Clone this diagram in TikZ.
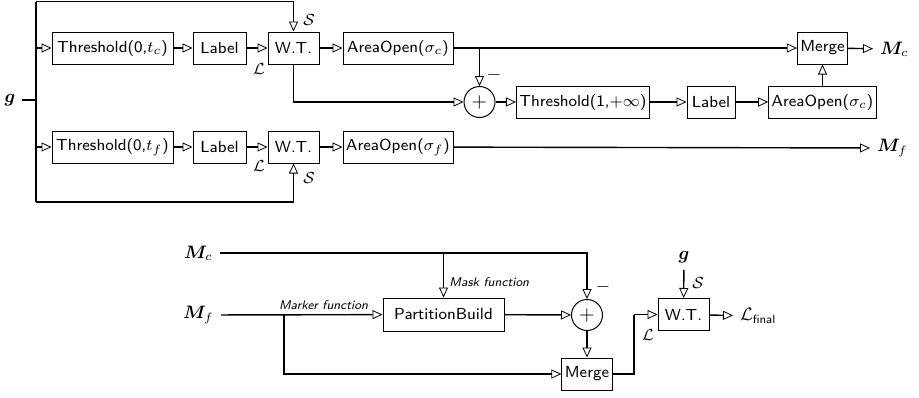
\documentclass[tikz,border=0pt]{standalone}
\usepackage{amsmath}
\usepackage{amssymb}
\usepackage{bm}
\usetikzlibrary{arrows.meta}
\def\g{\bm g}
\def\M{\bm M}
\def\Lc{\mathcal L}
\def\Sc{\mathcal S}

\begin{document}
\begin{tikzpicture}[x=5pt,y=-5pt,
    blk/.style={draw,line width=0.5pt,minimum height=16pt,inner xsep=1.5pt,font=\fontsize{8}{10}\selectfont\sffamily},
    sumnode/.style={draw,circle,line width=0.5pt,minimum size=15.5pt,inner sep=0pt,font=\fontsize{10}{10}\selectfont},
    wire/.style={line width=0.7pt,-{Triangle[open,length=5pt,width=4.5pt,line width=0.4pt]}},
    bus/.style={line width=0.7pt},
    lab/.style={inner sep=1pt,font=\fontsize{8}{9}\selectfont},
    note/.style={inner sep=1pt,font=\fontsize{6.3}{7}\selectfont\sffamily\itshape},
    io/.style={font=\fontsize{9}{10}\selectfont}]
          \useasboundingbox (0,0) rectangle (91.9,39.7);

          % first stage
          \node[io] (g) at (1.0,10.0) {$\g$};
          \coordinate (gin) at (3.6,10.0);
          \coordinate (ttop) at (3.6,0.15);
          \coordinate (tbot) at (3.6,20.2);

          \node[blk,minimum width=60.5pt] (thc) at (11.25,4.8) {Threshold(0,$t_c$)};
          \node[blk,minimum width=26.5pt] (lbc) at (21.95,4.8) {Label};
          \node[blk,minimum width=25.5pt] (wtc) at (29.35,4.8) {W.T.};
          \node[blk,minimum width=55pt] (aoc) at (39.8,4.8) {AreaOpen($\sigma_c$)};
          \node[blk,minimum width=60.5pt] (thf) at (11.25,14.7) {Threshold(0,$t_f$)};
          \node[blk,minimum width=26.5pt] (lbf) at (21.95,14.7) {Label};
          \node[blk,minimum width=25.5pt] (wtf) at (29.35,14.7) {W.T.};
          \node[blk,minimum width=55pt] (aof) at (39.8,14.7) {AreaOpen($\sigma_f$)};

          \node[sumnode] (sum) at (47.95,10.2) {$+$};
          \node[blk,minimum width=64pt] (th1) at (58.3,10.2) {Threshold(1,$+\infty$)};
          \node[blk,minimum width=24pt] (lb1) at (71.1,10.2) {Label};
          \node[blk,minimum width=50.5pt] (ao1) at (82.25,10.2) {AreaOpen($\sigma_c$)};
          \node[blk,minimum width=24.5pt] (mrg) at (82.25,4.8) {Merge};
          \node[io,anchor=west] (mc) at (87.3,4.9) {$\M_c$};
          \node[io,anchor=west] (mf) at (87.0,14.8) {$\M_f$};

          \node[lab] (sc) at (30.9,2.0) {$\Sc$};
          \node[lab] (lc) at (25.9,6.9) {$\Lc$};
          \node[lab] (sf) at (30.9,17.8) {$\Sc$};
          \node[lab] (lf) at (25.9,16.6) {$\Lc$};
          \node[io] (neg) at (49.4,7.5) {$-$};

          \draw [bus,line width=1pt] (g) -- (gin);
          \draw [bus] (ttop) -- (tbot);
          \draw [wire] (ttop) -| (wtc.north);
          \draw [wire] (tbot) -| (wtf.south);
          \draw [wire] (ttop |- thc) -- (thc);
          \draw [wire] (tbot |- thf) -- (thf);
          \draw [wire] (thc) -- (lbc);
          \draw [wire] (lbc) -- (wtc);
          \draw [wire] (wtc) -- (aoc);
          \draw [wire] (thf) -- (lbf);
          \draw [wire] (lbf) -- (wtf);
          \draw [wire] (wtf) -- (aof);
          \draw [wire] (aoc) -- (mrg);
          \draw [wire] (aoc.east -| sum) -- (sum);
          \draw [wire] (wtc) |- (sum);
          \draw [wire] (sum) -- (th1);
          \draw [wire] (th1) -- (lb1);
          \draw [wire] (lb1) -- (ao1);
          \draw [wire] (ao1) -- (mrg);
          \draw [wire] (mrg) -- (mc);
          \draw [wire] (aof) -- (mf);

          % second stage
          \node[io] (mc2) at (19.85,25.3) {$\M_c$};
          \node[io] (mf2) at (19.85,31.5) {$\M_f$};
          \coordinate (tap) at (28.4,31.5);
          \coordinate (bend) at (63.4,31.45);

          \node[blk,minimum height=16.5pt,minimum width=60.5pt] (pb) at (44.35,31.45) {PartitionBuild};
          \node[sumnode] (sum2) at (58.7,31.5) {$+$};
          \node[blk,minimum width=24pt] (mrg2) at (58.7,37.4) {Merge};
          \node[blk,minimum width=25.5pt] (wt2) at (68.35,31.45) {W.T.};
          \node[io] (g2) at (68.4,25.7) {$\g$};
          \node[io,anchor=west] (lfin) at (73.3,31.6) {$\Lc_{\textsf{final}}$};

          \node[note,anchor=west] (mask) at (44.7,28.2) {Mask function};
          \node[note] (mark) at (32.35,30.5) {Marker function};
          \node[io] (neg2) at (60.3,28.7) {$-$};
          \node[lab] (s2) at (69.8,28.3) {$\Sc$};
          \node[lab] (l2) at (64.8,33.5) {$\Lc$};

          \draw [wire] (mc2) -| (sum2);
          \draw [wire] (mc2 -| pb) -- (pb);
          \draw [wire] (mf2) -- (pb);
          \draw [wire] (tap) |- (mrg2);
          \draw [wire] (pb) -- (sum2);
          \draw [wire] (sum2) -- (mrg2);
          \draw [bus] (mrg2) -| (bend);
          \draw [wire] (bend) -- (wt2);
          \draw [wire] (g2) -- (wt2);
          \draw [wire] (wt2) -- (lfin);
	\end{tikzpicture}
\end{document}
